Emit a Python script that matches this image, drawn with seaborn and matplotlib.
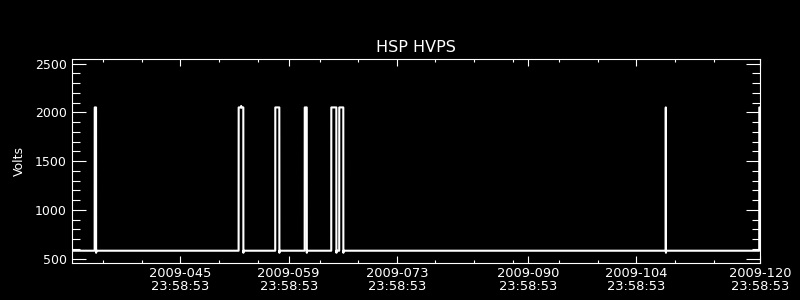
import matplotlib
matplotlib.use("Agg")
import matplotlib.pyplot as plt
import seaborn as sns
import pandas as pd

# ---- data (day-of-year 2009, ticks refer to 23:58:53 of that day) ----
days = [31.0, 33.89, 33.90, 34.07, 34.08, 34.10,
        52.52, 52.53, 52.84, 52.85, 52.86, 53.13, 53.14, 53.16,
        57.26, 57.27, 57.79, 57.80, 57.82,
        61.07, 61.08, 61.34, 61.35, 61.37,
        64.51, 64.52, 65.17, 65.18, 65.20,
        65.54, 65.55, 66.07, 66.08, 66.10,
        107.79, 107.80, 107.82, 107.83, 107.85,
        119.90, 119.91, 120.0]
volts = [582, 582, 2050, 2050, 561, 582,
         582, 2050, 2050, 2065, 2050, 2050, 561, 582,
         582, 2050, 2050, 561, 582,
         582, 2050, 2050, 561, 582,
         582, 2050, 2050, 561, 582,
         582, 2050, 2050, 561, 582,
         582, 2050, 2050, 561, 582,
         582, 2050, 2050]

major_days = [45, 59, 73, 90, 104, 120]
major_labels = [f"2009-{d:03d}\n23:58:53" for d in major_days]
minor_days = [35, 40, 50, 55, 63, 68, 78, 83, 88, 94, 99, 109, 114]
y_major = [500, 1000, 1500, 2000, 2500]
y_minor = list(range(500, 2600, 100))

title = "HSP HVPS"
ylabel = "Volts"

# ---- style ----
sns.set_theme(style="ticks", rc={
    "axes.facecolor": "black", "figure.facecolor": "black",
    "axes.edgecolor": "white", "axes.labelcolor": "white",
    "xtick.color": "white", "ytick.color": "white", "text.color": "white",
})
plt.rcParams["font.family"] = ["DejaVu Sans"]

fig = plt.figure(figsize=(8, 3), dpi=100)
ax = fig.add_axes([0.0904, 0.1223, 0.8596, 0.68])

df = pd.DataFrame({"day": days, "volts": volts})
sns.lineplot(data=df, x="day", y="volts", sort=False, estimator=None,
             color="white", linewidth=1.5, ax=ax)

ax.set_xlim(31, 120)
ax.set_ylim(453, 2543)

ax.set_xticks(major_days)
ax.set_xticklabels(major_labels, fontsize=9.4, linespacing=1.0)
ax.set_xticks(minor_days, minor=True)
ax.set_yticks(y_major)
ax.set_yticklabels([str(v) for v in y_major], fontsize=9.0)
ax.set_yticks(y_minor, minor=True)

ax.tick_params(axis="x", which="major", direction="in", length=4.7, width=0.8,
               top=True, bottom=True, pad=3)
ax.tick_params(axis="x", which="minor", direction="in", length=2.4, width=0.8,
               top=True, bottom=True)
ax.tick_params(axis="y", which="major", direction="in", length=10, width=0.8,
               left=True, right=True, pad=4)
ax.tick_params(axis="y", which="minor", direction="in", length=5.5, width=0.8,
               left=True, right=True)
for s in ax.spines.values():
    s.set_visible(True)
    s.set_color("white")
    s.set_linewidth(0.8)

ax.set_xlabel("")
ax.set_ylabel(ylabel, fontsize=9.0)
ax.yaxis.set_label_coords(-0.067, 0.5)
ax.set_title(title, fontsize=11.5, pad=5)

fig.savefig("out.png", dpi=100, facecolor="black")
